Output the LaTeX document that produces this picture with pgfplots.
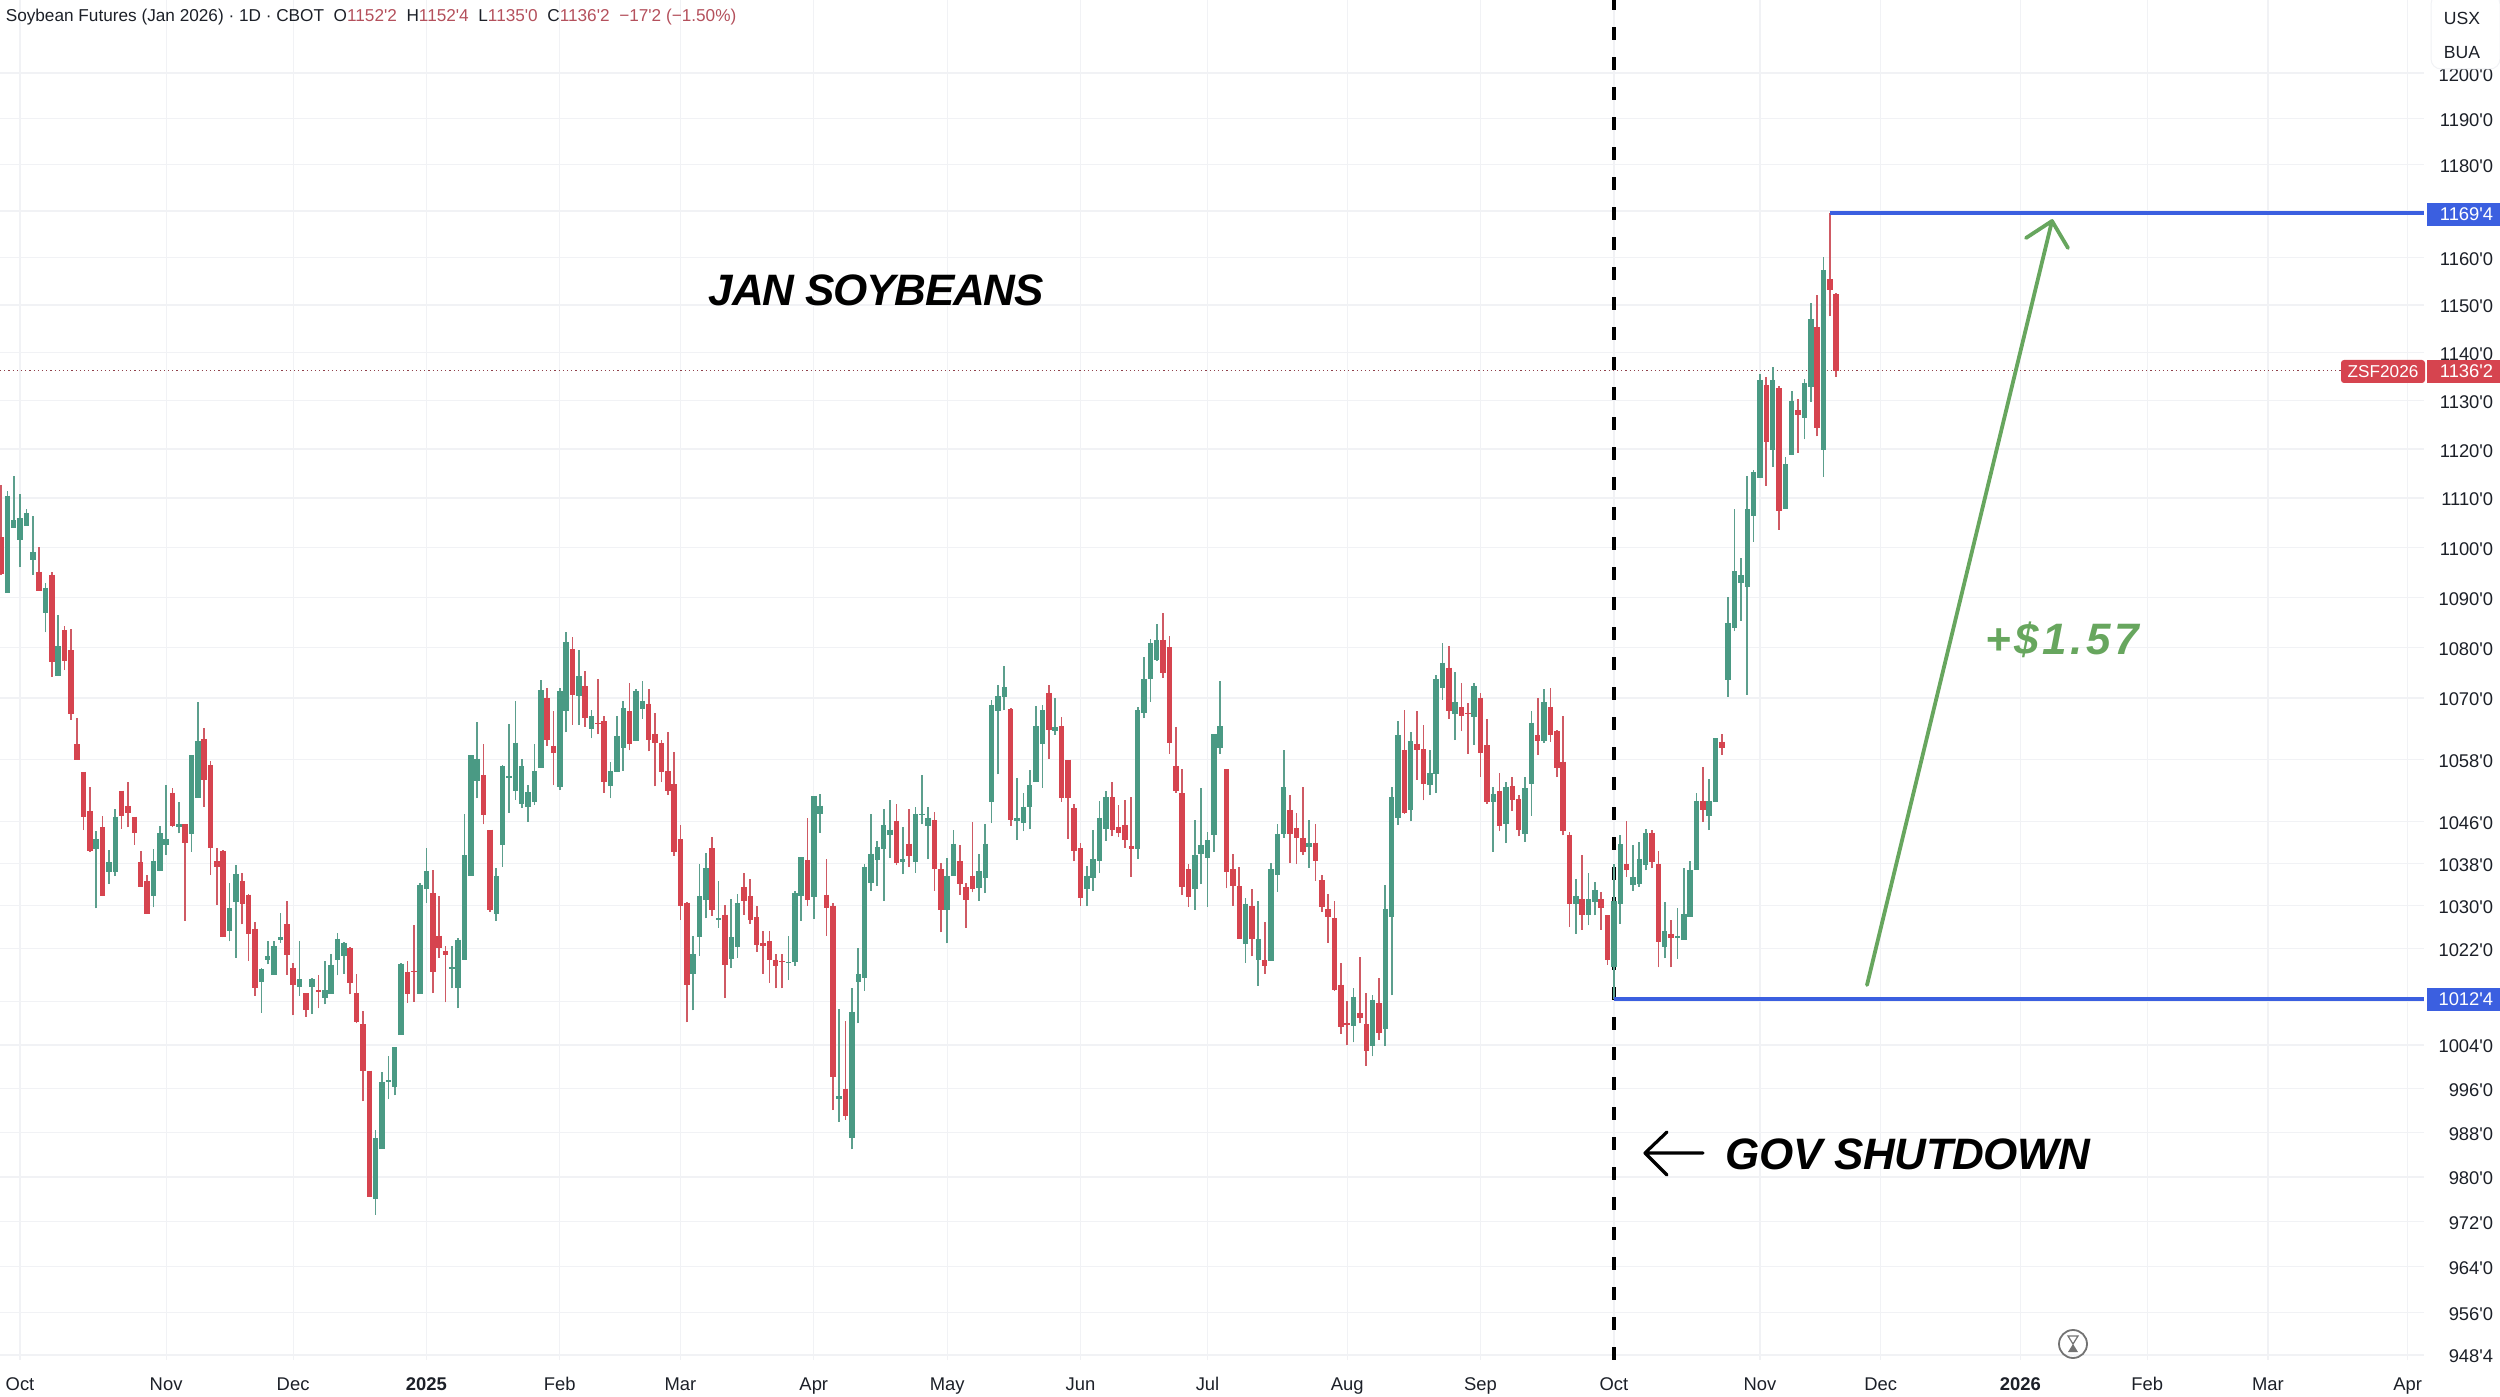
\documentclass[border=0pt]{standalone}
\usepackage{pgfplots}
\usepackage{pgfplotstable}
\usepackage{fontspec}
\pgfplotsset{compat=1.18}
\newfontfamily\tv{Liberation Sans}
\newfontfamily\tvw[LetterSpace=8]{Liberation Sans}
\newfontfamily\tvj[LetterSpace=-2.8]{Liberation Sans}
\newfontfamily\tvg[LetterSpace=-1]{Liberation Sans}
\definecolor{gb}{HTML}{4A9A84}
\definecolor{gw}{HTML}{5C9F8D}
\definecolor{rb}{HTML}{D6444F}
\definecolor{rw}{HTML}{CF5A64}
\definecolor{blu}{HTML}{3B5FE0}
\definecolor{grd}{HTML}{F1F2F5}
\definecolor{txt}{HTML}{1C2028}
\definecolor{hdr}{HTML}{B4505C}
\definecolor{arr}{HTML}{67A65E}
\pgfplotstableread{
x o h l c
1 1091 1111.4 1090.9 1110.5
2 1104 1114.6 1104 1105.5
3 1101.7 1110.9 1096 1105.9
4 1104.4 1107.8 1104.4 1106.9
5 1097.5 1106.3 1094.5 1099
7 1087 1092.9 1083 1091.9
9 1074.5 1086.4 1074.5 1080.2
15 1040.9 1044.3 1029.5 1042.6
17 1036.6 1040.6 1034.2 1038.3
18 1036.6 1048.5 1035.6 1047
24 1032 1040.7 1029.7 1038.5
25 1036.7 1045.2 1036.5 1043.8
26 1041.6 1053 1039.7 1042.6
28 1045.1 1049.8 1043.8 1045.5
30 1043.8 1058.9 1040.2 1058.9
31 1050.6 1069.2 1050.6 1061.7
36 1025.4 1034.4 1023.3 1029.6
37 1030.9 1037.8 1020.2 1036
41 1015.8 1018.2 1010 1018.1
42 1019.9 1023.4 1019 1020.6
43 1017.1 1023.4 1017 1022.4
44 1023.6 1028.7 1023 1024
47 1014.9 1023.4 1013.1 1016.2
49 1014.9 1016.5 1009.7 1016.2
51 1012.8 1019.7 1011.5 1014.1
52 1013.6 1021 1013.6 1018.9
53 1020 1024.9 1016.9 1023.8
54 1020.6 1023.2 1017.2 1023
59 976.2 988.5 973.2 987
60 985.2 999.1 985.2 997.3
61 997.3 1001.9 994.1 997.5
62 996.5 1003.6 994.8 1003.6
63 1006 1019.3 1006 1019.1
66 1013.6 1034.3 1013.5 1034
67 1033.2 1040.9 1030.6 1036.6
71 1018.2 1022.4 1014.5 1018.4
72 1014.7 1023.9 1010.8 1023.6
73 1020 1047.4 1020 1039.6
74 1035.8 1058.8 1035.8 1058.8
75 1053.9 1065.3 1050.5 1058.2
78 1028.5 1037.1 1027.2 1035.6
79 1041.6 1056.9 1037.4 1056.8
80 1054.6 1064.9 1047.7 1054.8
81 1052 1069.5 1050.2 1061.3
82 1049.6 1058.2 1048.6 1056.8
83 1048.9 1053 1046 1051.7
84 1050 1061.1 1049.2 1055.8
85 1056.5 1073.6 1056.5 1071.5
88 1052.8 1072 1052.1 1071.4
89 1067.6 1083 1063.3 1081.1
91 1070.6 1079.4 1064.8 1074.3
93 1064.1 1067.6 1062.1 1066.5
96 1052.9 1057.6 1050.5 1055.8
97 1055.8 1066.5 1055.6 1062.6
98 1060.3 1069.5 1055.8 1068
100 1061.8 1071.7 1061.6 1071.4
101 1068 1073.4 1065.9 1069.5
109 1017.4 1024.4 1010.4 1020.9
110 1024.2 1037.9 1020.6 1031.8
111 1031.3 1040 1027.6 1037.1
113 1027.5 1034.6 1025.9 1027.7
115 1020.1 1031.3 1018.3 1024
116 1022.4 1032.3 1020.2 1030.5
124 1019.3 1024.4 1016.1 1019.4
125 1019.6 1032.9 1018.7 1032.4
126 1032 1039.2 1027.2 1039.2
128 1031.8 1051 1027.5 1051
129 1047.6 1051.3 1043.9 1049.1
132 994.2 1010.6 990 994.6
134 987.2 1014.5 985 1010.2
135 1015.8 1022 1008 1017.1
136 1016.5 1038 1014 1037.4
137 1034.4 1047.5 1032.9 1039.9
138 1038.8 1042.4 1033.8 1041.2
139 1040.9 1048.5 1030.9 1045.3
140 1043.5 1050.1 1039.1 1044.5
142 1038.4 1044.9 1036 1038.9
144 1038.4 1048.9 1036.3 1047.4
145 1047.4 1055 1045.5 1047.5
146 1045.2 1048.9 1038.8 1046.8
149 1029.4 1039.1 1022.9 1035.6
150 1035.8 1044.5 1035.8 1041.8
154 1033.5 1039.9 1030.9 1036.6
155 1035.4 1045.6 1032.4 1041.8
156 1050 1069.7 1045.8 1068.6
157 1067.5 1072.5 1055.1 1070.4
158 1070.4 1076.4 1067.6 1072.1
160 1046.3 1054.5 1042.5 1046.8
161 1045.9 1051.5 1044.2 1048.9
162 1048.9 1056 1044.6 1053
163 1053.7 1068.4 1053.7 1064.5
164 1061.1 1068.7 1052.5 1067.6
166 1063.7 1070 1062.8 1064.3
171 1033.4 1037.6 1029.9 1035.7
172 1035.4 1044.5 1032.9 1038.9
173 1038.7 1050 1036.2 1046.8
174 1044.8 1052 1042.4 1050.7
179 1040.9 1068.2 1038.9 1067.6
180 1067.1 1078.1 1066 1073.8
181 1073.8 1081.7 1069.3 1080.8
182 1077.7 1084.7 1077.4 1081.5
188 1033.2 1046.4 1029.2 1039.6
189 1040 1052.5 1034.1 1041.6
190 1039.1 1044 1029.8 1042.5
191 1043.5 1063 1040.2 1063
192 1060.3 1073.4 1059.1 1064.5
196 1023 1031.4 1019.3 1030.4
198 1019.9 1030.9 1015 1023.8
200 1019.7 1038.1 1019.6 1037
201 1035.9 1045.6 1032.7 1043.7
202 1043.8 1059.8 1042.9 1052.6
206 1041.2 1046.3 1037.2 1041.9
213 1007.7 1014.6 1004.5 1012.9
216 1003.9 1013.3 1001.9 1012.4
218 1007 1034 1003.8 1029.4
219 1027.9 1052.6 1013.2 1050.7
220 1046.8 1065.4 1045.4 1062.8
222 1048.3 1063.3 1046.1 1061.6
225 1053.2 1059.8 1051.1 1055.3
226 1055.3 1074.5 1051.5 1073.7
227 1072 1080.9 1069.7 1077
229 1067 1075.2 1061.8 1069.2
232 1066.4 1073 1060.9 1072.4
235 1050 1052.6 1040.2 1051.3
237 1045.6 1053.7 1041.9 1052.7
240 1043.8 1054.7 1042.2 1052.4
241 1053.4 1067.5 1047.2 1065.2
243 1061.8 1071.8 1061.2 1069.2
248 1030.4 1035.1 1024.7 1031.8
250 1028.4 1036.1 1026.3 1031.2
251 1030.9 1034.5 1028.2 1033
254 1018.6 1038 1012.5 1030.9
255 1030.4 1043.4 1026.6 1041.7
257 1034 1041.6 1032.9 1035.4
258 1034.3 1042.2 1033.6 1038.8
259 1037.9 1044.6 1036.7 1043.9
262 1022.4 1030.7 1020.1 1025.2
264 1024.1 1029.5 1020 1024.2
265 1023.6 1037.1 1023.6 1028.5
266 1028 1038.4 1028 1036.8
267 1037 1051.5 1037 1050
269 1047.2 1054.2 1044.4 1050
270 1050 1062.2 1050 1062.1
272 1073.6 1090 1070.3 1084.8
273 1084 1107.8 1083.2 1095.2
274 1093 1097.9 1085.3 1094.4
275 1092.2 1114.4 1070.7 1107.7
276 1106.5 1115.7 1101.2 1115.2
277 1114.1 1135.6 1114.1 1134.3
279 1120 1137 1116.4 1134.3
281 1107.8 1118.3 1107.8 1116.9
282 1118.9 1132 1118.8 1130
284 1126.5 1134.5 1122 1133.7
285 1133 1150.4 1129.8 1147.1
287 1120 1160.2 1114.3 1157.4
}\up
\pgfplotstableread{
x o h l c
0 1102 1112.7 1094.5 1094.8
6 1095.1 1100 1091.3 1091.4
8 1094.5 1095.1 1074.2 1077.2
10 1083.5 1084.3 1075.5 1077.5
11 1079.4 1083.7 1065.7 1067
12 1061 1066 1058 1058
13 1055.6 1055.6 1044.4 1047
14 1048 1052.6 1040.2 1040.5
16 1044.9 1047.2 1031.8 1031.9
19 1052 1052 1044.7 1047.3
20 1049 1053.6 1044.9 1047.7
21 1047 1047 1041.6 1044
22 1038.3 1040.4 1033.6 1033.6
23 1034.7 1035.8 1028.4 1028.5
27 1051.6 1052.4 1044.9 1045.2
29 1045.5 1045.5 1027.2 1042.1
32 1062 1064.2 1048.9 1054.1
33 1056.9 1057.8 1035.8 1041.1
34 1038.5 1041 1030.2 1037.5
35 1040.4 1040.5 1024 1024.2
38 1034.7 1036.3 1026.5 1030.4
39 1032.1 1032.3 1019.6 1024.8
40 1025.7 1027 1013.1 1014.6
45 1026.5 1030.9 1017 1020.8
46 1018.2 1019.3 1009.5 1015.3
48 1013.6 1013.6 1009.2 1010.6
50 1014.2 1017 1010.8 1014
55 1022 1022.2 1013.4 1015.6
56 1013.6 1017.2 1008 1008.3
57 1007.8 1010.3 993.7 999.3
58 999.3 999.3 976.6 976.6
64 1017.6 1019.7 1011.8 1013.6
65 1017.8 1026.4 1012 1017.6
68 1032.4 1036.7 1013.6 1017.7
69 1024.4 1031.8 1020.2 1022.2
70 1021.5 1022.4 1011.9 1020.9
76 1055 1061.1 1045.5 1047.4
77 1044.5 1044.5 1028.9 1029.3
86 1070 1072 1060.7 1062
87 1060.6 1067.5 1053 1059.4
90 1079.7 1082 1064.8 1070.8
92 1072.3 1075.3 1064.4 1066.3
94 1065.2 1073.8 1062.9 1065
95 1065.4 1066.5 1051.6 1053.7
99 1067.4 1073 1059.8 1061.2
102 1068.9 1071.7 1059.6 1062
103 1063 1067.1 1052.8 1061.3
104 1061.2 1061.8 1053.6 1055.8
105 1055.8 1063.3 1051.2 1052.1
106 1053.2 1059.4 1039.5 1040.4
107 1042.6 1045.3 1027.3 1030
108 1030.6 1030.7 1008.2 1015.2
112 1040.9 1043 1028.1 1029.4
114 1028.3 1030.2 1012.7 1019
117 1033.5 1036.3 1028.3 1031
118 1031.8 1035 1026.6 1027.5
119 1027.8 1030 1021.3 1022.7
120 1022.9 1025.2 1017.2 1022.5
121 1023.3 1025.2 1015.6 1020
122 1019.8 1020.9 1014.5 1018.7
123 1019.6 1020.9 1014.5 1019.5
127 1038.7 1046.8 1030 1031.3
130 1032.1 1038.9 1024.4 1029.7
131 1030 1030.5 992.1 998.2
133 996 1008.5 990.3 991.2
141 1046.2 1049.5 1037.7 1038.3
143 1041.8 1048.4 1037.3 1039.5
147 1046.3 1047.9 1032.9 1037.1
148 1036.9 1038.1 1025 1029.4
151 1038.4 1041.5 1032.1 1034.2
152 1033.5 1034.4 1025.9 1031.2
153 1035.7 1045.9 1032.5 1033.4
159 1067.8 1068 1045.2 1046.5
165 1071 1072.5 1058.1 1063.8
167 1064.5 1066.3 1049.8 1050.6
168 1058 1058 1042.7 1050.7
169 1048.6 1049.5 1038.4 1040.5
170 1040.9 1042 1030 1031.5
175 1050.7 1053.7 1043.2 1044.5
176 1044.9 1049.2 1043 1044
177 1045.4 1050.2 1041 1042.6
178 1041.4 1050.7 1035.5 1040.9
183 1081.5 1086.9 1073.9 1075.1
184 1080 1082.3 1059.1 1061.4
185 1056.8 1064.4 1051.6 1052
186 1051.5 1056.1 1032 1033.6
187 1036.9 1037.9 1029.8 1031.8
193 1056.1 1056.1 1033.3 1036.6
194 1036.9 1039.9 1030 1033.9
195 1033.7 1037.4 1023.8 1023.8
197 1029.9 1033.1 1020.5 1023.8
199 1019.8 1027 1017.2 1018.8
203 1048.3 1051.1 1038.2 1043.7
204 1044.8 1047.6 1037.9 1042.9
205 1042.9 1052.6 1039.6 1040.4
207 1042 1045.6 1034.7 1038.6
208 1034.8 1035.8 1028.9 1029.9
209 1029.4 1032.3 1023 1027.9
210 1027.6 1030.9 1014 1014.3
211 1015.2 1019.2 1006.1 1007.5
212 1008 1012.2 1004 1007.8
214 1009.9 1020.3 1008 1009.1
215 1007.8 1013.7 1000.2 1003.1
217 1011.7 1016.5 1005 1006.4
221 1059.8 1067.6 1047.5 1047.8
223 1061.1 1067.4 1054.1 1060
224 1060 1064.7 1050.1 1053.3
228 1076 1080.3 1065.9 1067.6
230 1068.2 1073 1063.5 1066.7
231 1067.1 1069 1059.1 1067
233 1070 1070.9 1054.7 1059.4
234 1060.8 1065.9 1049.5 1049.9
236 1052 1055.3 1044.2 1045.3
238 1052.9 1054.7 1048 1050.3
239 1050.4 1051.2 1043.2 1044.5
242 1062.7 1070 1058.9 1061.8
244 1068.3 1072 1061.5 1062.9
245 1063.6 1063.8 1054.6 1056.5
246 1057.6 1066.4 1043.4 1044.4
247 1043.5 1044 1026 1030.4
249 1031.2 1039.6 1025.5 1028.4
252 1031.2 1032.6 1025.5 1029.6
253 1028.2 1028.2 1018.9 1020
256 1037.9 1046.2 1035.5 1036.9
260 1043.9 1044.4 1037.1 1038.4
261 1037.9 1040.4 1018.4 1023.2
263 1024.7 1027.4 1018.4 1024.1
268 1050 1056.5 1046 1048.4
271 1061.5 1063 1058.9 1060.3
278 1133.2 1134.9 1112.5 1121.6
280 1132.6 1133 1103.6 1107.5
283 1128 1130.3 1119.3 1127.1
286 1145.4 1152.2 1122.6 1124.5
288 1155.5 1169.5 1147.6 1153.4
289 1152.25 1152.5 1135 1136.25
}\down
\begin{document}
\begin{tikzpicture}
\useasboundingbox (0,0) rectangle (625pt,349pt);
\begin{axis}[
  at={(0,9pt)}, anchor=south west, scale only axis,
  width=606pt, height=340pt,
  ymode=log, xmin=-0.157, xmax=381.57, ymin=947.7, ymax=1216.3,
  axis line style={draw=none}, major tick length=0pt, minor tick num=0,
  grid=major, grid style={color=grd, line width=0.3pt},
  clip=false,
  font=\tv,
  xtick={3,26,46,67,88,107,128,149,170,190,212,233,254,277,296,318,338,357,379},
  xticklabels={Oct,Nov,Dec,\textbf{2025},Feb,Mar,Apr,May,Jun,Jul,Aug,Sep,Oct,Nov,Dec,\textbf{2026},Feb,Mar,Apr},
  xticklabel style={anchor=base, inner sep=0pt, yshift=-7.7pt, font=\tv\fontsize{4.6}{5.5}\selectfont, text=txt},
  yticklabel pos=right,
  ytick={948.5,956,964,972,980,988,996,1004,1012,1022,1030,1038,1046,1058,1070,1080,1090,1100,1110,1120,1130,1140,1150,1160,1170,1180,1190,1200},
  yticklabels={948'4,956'0,964'0,972'0,980'0,988'0,996'0,1004'0,{},1022'0,1030'0,1038'0,1046'0,1058'0,1070'0,1080'0,1090'0,1100'0,1110'0,1120'0,1130'0,1140'0,1150'0,1160'0,{},1180'0,1190'0,1200'0},
  yticklabel style={anchor=east, inner sep=0pt, xshift=17.5pt, yshift=-0.4pt, font=\tv\fontsize{4.6}{5.5}\selectfont, text=txt},
]
% dashed shutdown line
\addplot[black, line width=0.9pt, dash pattern=on 3.25pt off 4.25pt, forget plot] coordinates {(254,947.7) (254,1216.3)};
% last price
\addplot[hdr!80!black, line width=0.25pt, dash pattern=on 0.3pt off 0.75pt, forget plot] coordinates {(-0.157,1136.25) (368.5,1136.25)};
% wicks
\addplot[draw=none, mark=none, forget plot, error bars/.cd, y dir=plus, y explicit, error mark=none, error bar style={color=gw, line width=0.42pt}] table[x=x, y=l, y error expr=\thisrow{h}-\thisrow{l}] {\up};
\addplot[draw=none, mark=none, forget plot, error bars/.cd, y dir=plus, y explicit, error mark=none, error bar style={color=rw, line width=0.42pt}] table[x=x, y=l, y error expr=\thisrow{h}-\thisrow{l}] {\down};
% bodies
\addplot[draw=none, mark=none, forget plot, error bars/.cd, y dir=minus, y explicit, error mark=none, error bar style={color=gb, line width=1.38pt}] table[x=x, y=c, y error expr=\thisrow{c}-\thisrow{o}+0.12] {\up};
\addplot[draw=none, mark=none, forget plot, error bars/.cd, y dir=minus, y explicit, error mark=none, error bar style={color=rb, line width=1.38pt}] table[x=x, y=o, y error expr=\thisrow{o}-\thisrow{c}+0.12] {\down};
% blue levels
\addplot[blu, line width=1.05pt, forget plot] coordinates {(254,1012.5) (381.57,1012.5)};
\addplot[blu, line width=1.05pt, forget plot] coordinates {(288,1169.5) (381.57,1169.5)};
\end{axis}
\begin{scope}[shift={(0,349pt)}, x=0.25pt, y=-0.25pt]
  % right-hand price labels
  \fill[blu] (2427,203) rectangle (2500,226);
  \node[text=white, anchor=east, inner sep=0pt, font=\tv\fontsize{4.6}{5.5}\selectfont] at (2494,214.5) {1169'4};
  \fill[blu] (2427,988) rectangle (2500,1011);
  \node[text=white, anchor=east, inner sep=0pt, font=\tv\fontsize{4.6}{5.5}\selectfont] at (2494,999.5) {1012'4};
  \fill[rb, rounded corners=0.75pt] (2341,360) rectangle (2425,383);
  \node[text=white, anchor=center, inner sep=0pt, font=\tv\fontsize{4.3}{5.5}\selectfont] at (2383,371.5) {ZSF2026};
  \fill[rb] (2427,360) rectangle (2500,383);
  \node[text=white, anchor=east, inner sep=0pt, font=\tv\fontsize{4.6}{5.5}\selectfont] at (2494,371.5) {1136'2};
  % top-right box
  \filldraw[fill=white, draw=grd, line width=0.25pt, rounded corners=2.5pt] (2431,-6) rectangle (2500,69);
  \node[text=txt, anchor=west, inner sep=0pt, font=\tv\fontsize{4.4}{5.5}\selectfont] at (2443,18) {USX};
  \node[text=txt, anchor=west, inner sep=0pt, font=\tv\fontsize{4.4}{5.5}\selectfont] at (2443,53) {BUA};
  % header
  \node[anchor=west, inner sep=0pt, text=txt, font=\tv\fontsize{4.3}{5.5}\selectfont] at (5,17.5)
    {Soybean Futures (Jan 2026) · 1D · CBOT\hspace{2.4pt}O\textcolor{hdr}{1152'2}\hspace{2.4pt}H\textcolor{hdr}{1152'4}\hspace{2.4pt}L\textcolor{hdr}{1135'0}\hspace{2.4pt}C\textcolor{hdr}{1136'2}\hspace{2.4pt}\textcolor{hdr}{−17'2 (−1.50\%)}};
  % annotations
  \node[anchor=west, inner sep=0pt, font=\tvj\fontsize{11}{13}\bfseries\itshape\selectfont] at (708,290) {JAN SOYBEANS};
  \node[anchor=west, inner sep=0pt, font=\tvg\fontsize{11}{13}\bfseries\itshape\selectfont] at (1725,1154) {GOV SHUTDOWN};
  \node[anchor=west, inner sep=0pt, text=arr, font=\tvw\fontsize{11}{13}\bfseries\itshape\selectfont] at (1985,640) {+\$1.57};
  \draw[black, line width=0.8pt, line cap=round, line join=round] (1703,1153) -- (1645,1153) (1667,1132) -- (1645,1153) -- (1667,1175);
  \draw[arr, line width=0.95pt, line cap=round, line join=round] (1867,985) -- (2052,221) (2026,238) -- (2052,221) -- (2068,248);
  % hourglass icon
  \draw[black!55, line width=0.45pt] (2073,1344) circle (3.5pt);
  \fill[black!55] (2073,1344) -- (2078,1352) -- (2068,1352) -- cycle;
  \draw[black!55, line width=0.3pt] (2068,1336) -- (2078,1336) -- (2073,1344) -- cycle;
\end{scope}
\end{tikzpicture}
\end{document}
